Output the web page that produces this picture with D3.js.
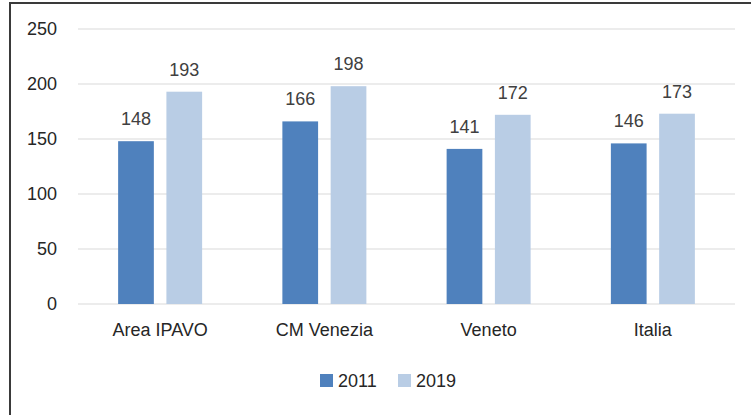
<!DOCTYPE html>
<html>
<head>
<meta charset="utf-8">
<script src="https://cdn.jsdelivr.net/npm/d3@7"></script>
<style>
  body { margin: 0; background: #fff; }
  svg text { font-family: "Liberation Sans", Arial, sans-serif; }
</style>
</head>
<body>
<div id="chartDiv"></div>
<script>
var categories = ["Area IPAVO", "CM Venezia", "Veneto", "Italia"];
var years = ["2011", "2019"];
var values2011 = [148, 166, 141, 146];
var values2019 = [193, 198, 172, 173];
var yTicks = [0, 50, 100, 150, 200, 250];

var colors = d3.scaleOrdinal().domain(years).range(["#4f81bd", "#b9cde5"]);

var svg = d3.select("#chartDiv").append("svg")
    .attr("width", 751)
    .attr("height", 415);

var margin = {top: 29, right: 16, bottom: 111, left: 78};
var width = 751 - margin.left - margin.right,
    height = 415 - margin.top - margin.bottom;

// frame: only left and top edges show
svg.append("path")
    .attr("d", "M10,415 V3 H751")
    .attr("fill", "none")
    .attr("stroke", "#3a3a3a")
    .attr("stroke-width", 2);

var g = svg.append("g").attr("transform", "translate(" + margin.left + "," + margin.top + ")");

var x0 = d3.scaleBand().domain(categories).range([0, width]).paddingInner(0).paddingOuter(0);
var x1 = d3.scaleBand().domain(years).range([x0.bandwidth() / 2 - 42, x0.bandwidth() / 2 + 42]).paddingInner(0.26).paddingOuter(0);
var y = d3.scaleLinear().domain([0, 250]).range([height, 0]);

// gridlines
g.append("g").selectAll("line").data(yTicks).enter().append("line")
    .attr("x1", 0).attr("x2", width)
    .attr("y1", function(d){ return y(d); })
    .attr("y2", function(d){ return y(d); })
    .attr("stroke", "#d9d9d9")
    .attr("stroke-width", 1);

// y tick labels
var yAxis = d3.axisLeft(y).tickValues(yTicks).tickSize(0).tickPadding(21);
g.append("g").call(yAxis)
    .call(function(s){ s.select(".domain").remove(); })
    .selectAll("text")
    .attr("fill", "#262626")
    .style("font-size", "18px");

var rows = categories.map(function(c, i){
    return {cat: c, bars: [{year: "2011", v: values2011[i]}, {year: "2019", v: values2019[i]}]};
});

var groups = g.selectAll(".cat").data(rows).enter().append("g")
    .attr("class", "cat")
    .attr("transform", function(d){ return "translate(" + x0(d.cat) + ",0)"; });

groups.selectAll("rect").data(function(d){ return d.bars; }).enter().append("rect")
    .attr("x", function(d){ return x1(d.year); })
    .attr("y", function(d){ return y(d.v); })
    .attr("width", x1.bandwidth())
    .attr("height", function(d){ return height - y(d.v); })
    .attr("fill", function(d){ return colors(d.year); });

groups.selectAll(".lbl").data(function(d){ return d.bars; }).enter().append("text")
    .attr("class", "lbl")
    .attr("x", function(d){ return x1(d.year) + x1.bandwidth() / 2; })
    .attr("y", function(d){ return y(d.v) - 16; })
    .attr("text-anchor", "middle")
    .attr("fill", "#404040")
    .style("font-size", "18px")
    .text(function(d){ return d.v; });

// category labels
var xAxis = d3.axisBottom(x0).tickSize(0).tickPadding(19);
g.append("g").attr("transform", "translate(0," + height + ")").call(xAxis)
    .call(function(s){ s.select(".domain").remove(); })
    .selectAll("text")
    .attr("fill", "#262626")
    .style("font-size", "18px");

// legend
var legend = svg.append("g").attr("transform", "translate(320,374)");
var items = legend.selectAll("g").data(years).enter().append("g")
    .attr("transform", function(d, i){ return "translate(" + (i * 78) + ",0)"; });
items.append("rect").attr("width", 13).attr("height", 13)
    .attr("fill", function(d){ return colors(d); });
items.append("text").attr("x", 18).attr("y", 13)
    .attr("fill", "#262626")
    .style("font-size", "18px")
    .text(function(d){ return d; });
</script>
</body>
</html>
